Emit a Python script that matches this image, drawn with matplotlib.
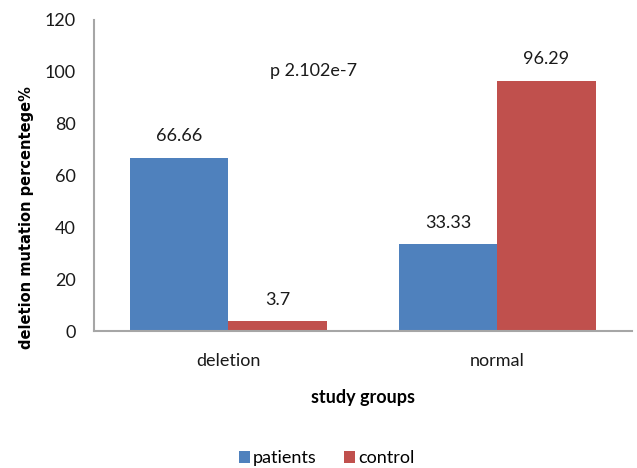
import numpy as np
import matplotlib.pyplot as plt

groups = ["deletion", "normal"]
patients = [66.66, 33.33]
control = [3.7, 96.29]
series_names = ["patients", "control"]
p_text = "p 2.102e-7"

blue = "#4F81BD"
red = "#C0504D"
font = ["Lato", "DejaVu Sans"]

plt.rcParams["font.family"] = font

fig = plt.figure(figsize=(6.37, 4.68), dpi=100)
ax = fig.add_axes([0.1476, 0.2927, 0.8444, 0.6656])

x = np.arange(len(groups))
w = 0.365
b1 = ax.bar(x - w / 2, patients, w, color=blue, label=series_names[0])
b2 = ax.bar(x + w / 2, control, w, color=red, label=series_names[1])

for bars, vals in [(b1, patients), (b2, control)]:
    for rect, v in zip(bars, vals):
        ax.annotate(str(v), (rect.get_x() + rect.get_width() / 2, v),
                    xytext=(0, 10), textcoords="offset points",
                    ha="center", va="bottom", fontsize=13, color="#1a1a1a")

ax.text(0.155, 100, p_text, fontsize=13, ha="left", va="center", color="#1a1a1a")

ax.set_xlim(-0.5, 1.5)
ax.set_ylim(0, 120)
ax.set_yticks(range(0, 121, 20))
ax.set_xticks(x)
ax.set_xticklabels(groups)
ax.tick_params(axis="both", length=0, labelsize=13, colors="#1a1a1a")
ax.tick_params(axis="x", pad=16)
ax.tick_params(axis="y", pad=13)

for s in ["top", "right"]:
    ax.spines[s].set_visible(False)
for s in ["left", "bottom"]:
    ax.spines[s].set_color("#a6a6a6")
    ax.spines[s].set_linewidth(1.5)

ax.set_xlabel("study groups", fontsize=13, fontweight="bold", labelpad=14)
fig.text(0.042, 0.536, "deletion mutation percentege%", rotation=90,
         ha="center", va="center", fontsize=10.5, fontweight="bold",
         family="DejaVu Sans")

fig.legend(loc="center", bbox_to_anchor=(0.513, 0.021), ncol=2, frameon=False,
           fontsize=13, handlelength=0.6, handleheight=0.6,
           handletextpad=0.2, columnspacing=1.5)

fig.savefig("out.png", dpi=100)
